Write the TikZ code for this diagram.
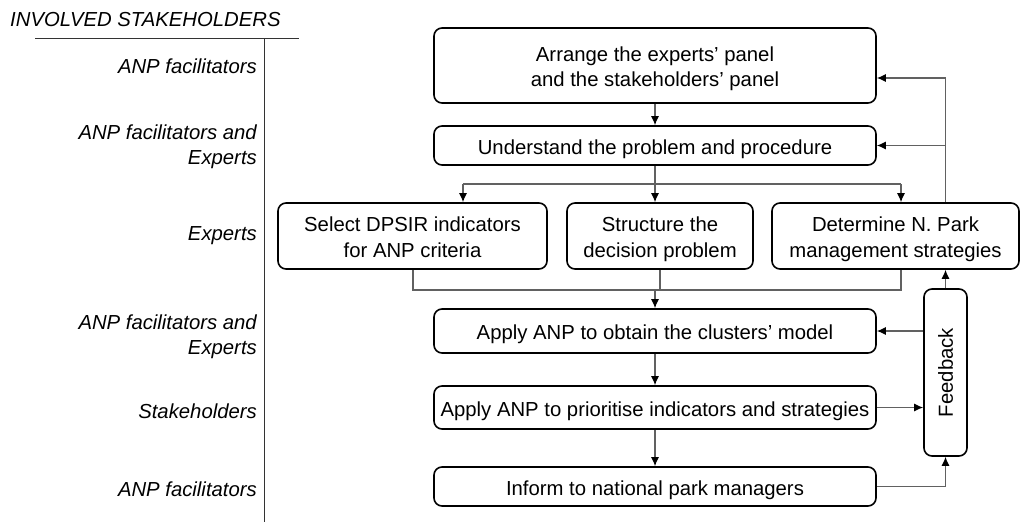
\documentclass[tikz,border=0pt]{standalone}
\usepackage{fontspec}
\setmainfont{Liberation Sans}
\usetikzlibrary{arrows.meta,calc}
\begin{document}
\begin{tikzpicture}[x=1pt,y=-1pt,
  stepbox/.style={draw=black,line width=1.6pt,rounded corners=8pt,align=center,inner sep=0pt,font=\fontsize{20.3}{25.5}\selectfont,text height=18pt,text depth=0.6pt},
  twoline/.style={text height=43pt,text depth=0.5pt},
  lbl/.style={anchor=base east,align=right,inner sep=0pt,font=\fontsize{20.3}{25}\selectfont\itshape},
  conn/.style={draw=black!62,line width=1.2pt},
  arr/.style={conn,-{Latex[length=9pt,width=8pt,color=black]}},
  rule/.style={draw=black!80,line width=1pt}
]
\useasboundingbox (0,0) rectangle (1020,522);

% left column
\node[anchor=west,inner sep=0pt,font=\fontsize{20.3}{24.5}\selectfont\itshape] (title) at (10,20) {INVOLVED STAKEHOLDERS};
\coordinate (hl) at (35,38);
\coordinate (hr) at (299,38);
\coordinate (vt) at (264,38);
\coordinate (vb) at (264,522);
\draw[rule] (hl) -- (hr);
\draw[rule] (vt) -- (vb);

\node[lbl] (l1) at (257,73) {ANP facilitators};
\node[lbl] (l2) at (257,164) {ANP facilitators and\\Experts};
\node[lbl] (l3) at (257,240) {Experts};
\node[lbl] (l4) at (257,354) {ANP facilitators and\\Experts};
\node[lbl] (l5) at (257,418) {Stakeholders};
\node[lbl] (l6) at (257,496) {ANP facilitators};

% boxes
\node[stepbox,twoline,minimum width=442pt,minimum height=75pt] (b1) at (655,65.5) {Arrange the experts' panel\\and the stakeholders' panel};
\node[stepbox,minimum width=442pt,minimum height=39pt] (b2) at (655,145.5) {Understand the problem and procedure};
\node[stepbox,twoline,minimum width=269pt,minimum height=66pt] (bA) at (412.5,236) {Select DPSIR indicators\\for ANP criteria};
\node[stepbox,twoline,minimum width=186pt,minimum height=66pt] (bB) at (660,236) {Structure the\\decision problem};
\node[stepbox,twoline,minimum width=247pt,minimum height=66pt] (bC) at (895.5,236) {Determine N. Park\\management strategies};
\node[stepbox,minimum width=442pt,minimum height=44pt] (b4) at (655,331) {Apply ANP to obtain the clusters' model};
\node[stepbox,minimum width=442pt,minimum height=43pt] (b5) at (655,407.5) {Apply ANP to prioritise indicators and strategies};
\node[stepbox,minimum width=442pt,minimum height=39pt] (b6) at (655,486.5) {Inform to national park managers};
\node[stepbox,text height=,text depth=,minimum width=43pt,minimum height=167pt] (fb) at (945.5,372.5) {};
\node[rotate=90,inner sep=0pt,font=\fontsize{20.3}{24.5}\selectfont] (fbtext) at (fb.center) {Feedback};

% connectors
\draw[arr] (b1.south) -- (b2.north);
\coordinate (br) at (655,184);
\coordinate (brL) at (463,184);
\coordinate (brR) at (901,184);
\draw[conn] (b2.south) -- (br);
\draw[conn] (brL) -- (brR);
\draw[arr] (brL) -- (brL |- bA.north);
\draw[arr] (br) -- (br |- bB.north);
\draw[arr] (brR) -- (brR |- bC.north);

\coordinate (fbtop) at (945.5,78);
\draw[arr] (fb.north |- bC.north) -- (fbtop) -- (fbtop -| b1.east);
\draw[arr] (fb.north |- b2.east) -- (b2.east);

\coordinate (mL) at (413,290);
\coordinate (mR) at (901,290);
\coordinate (mg) at (655,290);
\draw[conn] (mL |- bA.south) -- (mL) -- (mR) -- (mR |- bC.south);
\draw[conn] (bB.south) -- (bB.south |- mg);
\draw[arr] (mg) -- (b4.north);
\draw[arr] (b4.south) -- (b5.north);
\draw[arr] (b5.south) -- (b6.north);

\draw[arr] (fb.west |- b4.east) -- (b4.east);
\draw[arr] (b5.east) -- (b5.east -| fb.west);
\draw[arr] (b6.east) -| (fb.south);
\draw[arr] (fb.north) -- (fb.north |- bC.south);
\end{tikzpicture}
\end{document}
